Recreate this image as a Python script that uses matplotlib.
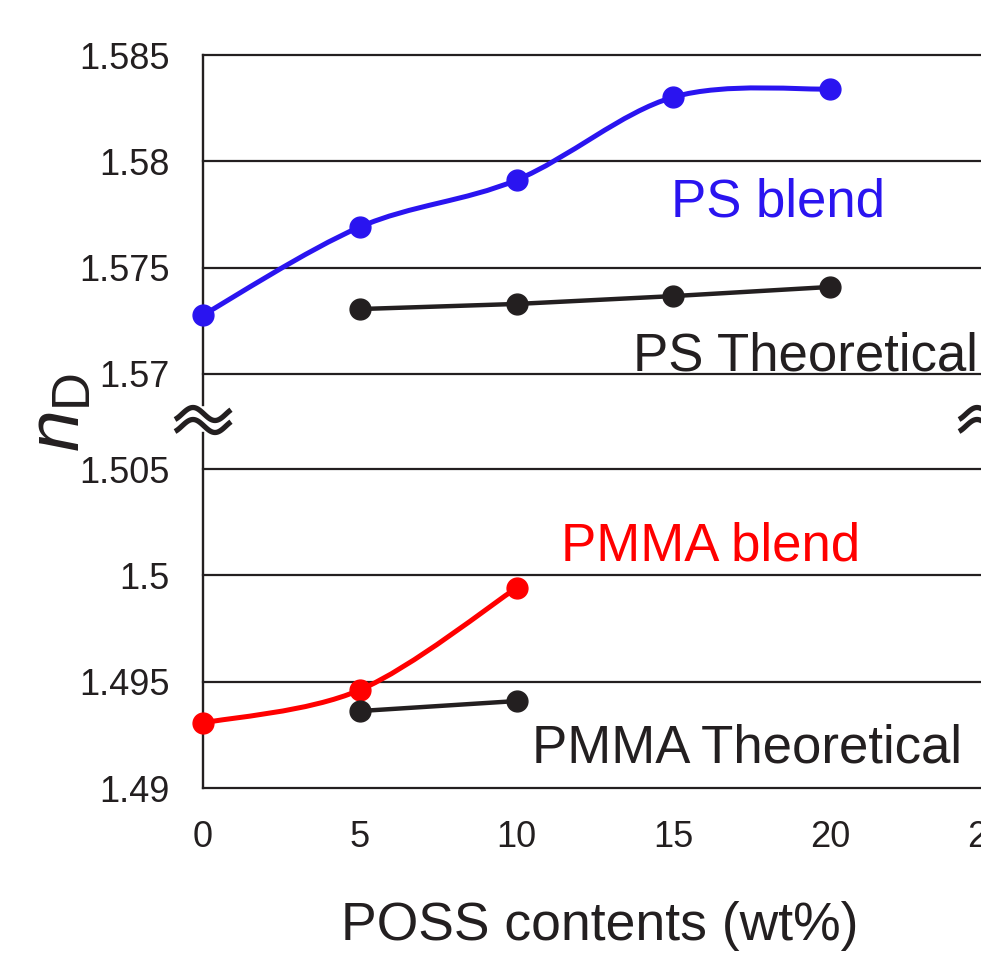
import numpy as np
import matplotlib
matplotlib.use("Agg")
import matplotlib.pyplot as plt
from matplotlib.path import Path
from matplotlib.patches import PathPatch

plt.rcParams['font.family'] = ['Liberation Sans', 'DejaVu Sans']
plt.rcParams['mathtext.fontset'] = 'custom'
plt.rcParams['mathtext.rm'] = 'Liberation Sans'
plt.rcParams['mathtext.it'] = 'Liberation Sans:italic'

# data
poss = [0, 5, 10, 15, 20]
ps_blend = [1.57277, 1.57691, 1.57912, 1.58302, 1.58340]
poss_theo = [5, 10, 15, 20]
ps_theo = [1.57305, 1.57329, 1.57366, 1.57409]
poss_pmma = [0, 5, 10]
pmma_blend = [1.49306, 1.49461, 1.49941]
poss_pmma_theo = [5, 10]
pmma_theo = [1.49362, 1.49409]

xticks = [0, 5, 10, 15, 20, 25]
top_ticks = [1.57, 1.575, 1.58, 1.585]
bot_ticks = [1.49, 1.495, 1.5, 1.505]
top_labels = ['1.57', '1.575', '1.58', '1.585']
bot_labels = ['1.49', '1.495', '1.5', '1.505']

BLACK = '#231f20'
BLUE = '#2a14f0'
RED = '#ff0000'

W, H = 981, 955
fig = plt.figure(figsize=(W / 100, H / 100), dpi=100)
left, right = 203 / W, 987 / W
ax_top = fig.add_axes([left, 1 - 405 / H, right - left, (405 - 55) / H])
ax_bot = fig.add_axes([left, 1 - 788 / H, right - left, (788 - 433) / H])
ax_top.set_ylim(1.568537, 1.585)
ax_bot.set_ylim(1.49, 1.506698)


def smooth_line(ax, xs, ys, color, lw):
    # Excel-style smoothed line (Catmull-Rom as cubic Bezier)
    pts = np.column_stack([xs, ys]).astype(float)
    ext = np.vstack([pts[0], pts, pts[-1]])
    verts = [pts[0]]
    codes = [Path.MOVETO]
    for i in range(len(pts) - 1):
        p0, p1, p2, p3 = ext[i], ext[i + 1], ext[i + 2], ext[i + 3]
        verts += [p1 + (p2 - p0) / 6, p2 - (p3 - p1) / 6, p2]
        codes += [Path.CURVE4] * 3
    ax.add_patch(PathPatch(Path(verts, codes), facecolor='none', edgecolor=color,
                           lw=lw, capstyle='round', zorder=3))


for ax, ticks, labels in [(ax_top, top_ticks, top_labels), (ax_bot, bot_ticks, bot_labels)]:
    ax.set_xlim(0, 25)
    ax.set_facecolor('none')
    for s in ['top', 'right', 'bottom']:
        ax.spines[s].set_visible(False)
    ax.spines['left'].set_color(BLACK)
    ax.spines['left'].set_linewidth(1.7)
    ax.set_yticks(ticks)
    ax.set_yticklabels(labels)
    ax.tick_params(axis='y', length=0, pad=24, labelsize=26, labelcolor=BLACK)
    for t in ticks:
        ax.axhline(t, color=BLACK, lw=1.6, clip_on=False, zorder=1)

ax_top.set_xticks([])
ax_bot.set_xticks(xticks)
ax_bot.tick_params(axis='x', length=0, pad=23, labelsize=26, labelcolor=BLACK)

# PS series
smooth_line(ax_top, poss, ps_blend, BLUE, 3.6)
ax_top.plot(poss, ps_blend, 'o', color=BLUE, ms=15, zorder=4)
ax_top.plot(poss_theo, ps_theo, '-o', color=BLACK, lw=3.2, ms=15, zorder=4)

# PMMA series
smooth_line(ax_bot, poss_pmma, pmma_blend, RED, 3.6)
ax_bot.plot(poss_pmma, pmma_blend, 'o', color=RED, ms=15, zorder=4)
ax_bot.plot(poss_pmma_theo, pmma_theo, '-o', color=BLACK, lw=3.2, ms=15, zorder=4)

for a in (ax_top, ax_bot):
    for ln in a.lines:
        ln.set_clip_on(False)

# labels in the plot
ax_top.text(18.34, 1.57738, 'PS blend', color=BLUE, fontsize=38, ha='center', va='baseline')
ax_top.text(19.2, 1.57018, 'PS Theoretical', color=BLACK, fontsize=38, ha='center', va='baseline')
ax_bot.text(16.2, 1.50068, 'PMMA blend', color=RED, fontsize=38, ha='center', va='baseline')
ax_bot.text(17.35, 1.49118, 'PMMA Theoretical', color=BLACK, fontsize=38, ha='center', va='baseline')

fig.text(600 / W, 1 - 940 / H, 'POSS contents (wt%)', fontsize=38.5, color=BLACK,
         ha='center', va='baseline')
fig.text(60 / W, 1 - 412 / H, r'$n_\mathrm{D}$', fontsize=54, color=BLACK,
         rotation=90, ha='center', va='center')

# axis break marks at both ends
gap_top = ax_top.get_position().y0
gap_bot = ax_bot.get_position().y1
yc = (gap_top + gap_bot) / 2
for xa in (ax_bot.get_position().x0, ax_bot.get_position().x1):
    t = np.linspace(-28, 28, 60)
    for dy in (5, -7):
        wave = 6.5 * np.cos(2 * np.pi * (t + 10) / 44)
        fig.add_artist(plt.Line2D(xa + t / W, yc + (wave + dy) / H,
                                  color=BLACK, lw=3.8, solid_capstyle='butt'))

fig.savefig('out.png', dpi=100)
